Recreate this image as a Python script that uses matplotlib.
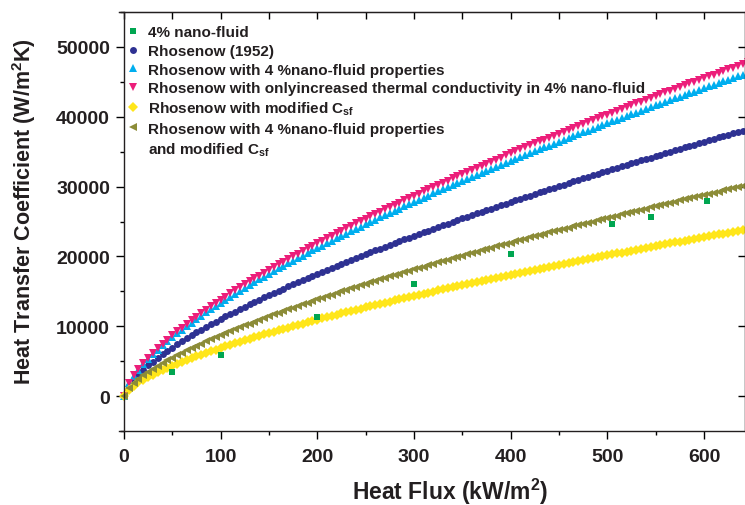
import matplotlib
matplotlib.use("Agg")
import matplotlib.pyplot as plt
from matplotlib.lines import Line2D
from matplotlib.ticker import MultipleLocator

# heat flux grid (kW/m2), one row per 50 kW/m2
heat_flux = [
    0, 5, 10, 15, 20, 25, 30, 35, 40, 45,
    50, 55, 60, 65, 70, 75, 80, 85, 90, 95,
    100, 105, 110, 115, 120, 125, 130, 135, 140, 145,
    150, 155, 160, 165, 170, 175, 180, 185, 190, 195,
    200, 205, 210, 215, 220, 225, 230, 235, 240, 245,
    250, 255, 260, 265, 270, 275, 280, 285, 290, 295,
    300, 305, 310, 315, 320, 325, 330, 335, 340, 345,
    350, 355, 360, 365, 370, 375, 380, 385, 390, 395,
    400, 405, 410, 415, 420, 425, 430, 435, 440, 445,
    450, 455, 460, 465, 470, 475, 480, 485, 490, 495,
    500, 505, 510, 515, 520, 525, 530, 535, 540, 545,
    550, 555, 560, 565, 570, 575, 580, 585, 590, 595,
    600, 605, 610, 615, 620, 625, 630, 635, 640, 645,
]

# Rohsenow (1952), base fluid
h_rohsenow = [
    0, 1500, 2380, 3110, 3770, 4380, 4940, 5480, 5990, 6480,
    6950, 7410, 7850, 8280, 8700, 9110, 9510, 9900, 10280, 10660,
    11030, 11400, 11750, 12110, 12460, 12800, 13140, 13470, 13810, 14130,
    14450, 14770, 15090, 15400, 15710, 16020, 16320, 16620, 16920, 17220,
    17510, 17800, 18090, 18380, 18660, 18940, 19220, 19500, 19770, 20050,
    20320, 20590, 20860, 21120, 21390, 21650, 21910, 22170, 22430, 22690,
    22950, 23200, 23450, 23700, 23950, 24200, 24450, 24700, 24940, 25190,
    25430, 25670, 25910, 26150, 26390, 26630, 26860, 27100, 27330, 27560,
    27800, 28030, 28260, 28490, 28710, 28940, 29170, 29390, 29620, 29840,
    30070, 30290, 30510, 30730, 30950, 31170, 31390, 31610, 31820, 32040,
    32250, 32470, 32680, 32900, 33110, 33320, 33530, 33740, 33950, 34160,
    34370, 34580, 34790, 34990, 35200, 35400, 35610, 35810, 36020, 36220,
    36420, 36620, 36830, 37030, 37230, 37430, 37630, 37830, 38020, 38220,
]

# Rohsenow with 4% nano-fluid properties
h_nano_props = [
    0, 1810, 2880, 3770, 4570, 5300, 5990, 6630, 7250, 7840,
    8420, 8970, 9500, 10020, 10530, 11030, 11510, 11990, 12450, 12910,
    13360, 13800, 14230, 14660, 15080, 15500, 15910, 16320, 16720, 17110,
    17500, 17890, 18270, 18650, 19030, 19400, 19770, 20130, 20490, 20850,
    21200, 21560, 21900, 22250, 22600, 22940, 23270, 23610, 23940, 24280,
    24610, 24930, 25260, 25580, 25900, 26220, 26540, 26850, 27160, 27480,
    27790, 28090, 28400, 28700, 29010, 29310, 29610, 29910, 30200, 30500,
    30790, 31090, 31380, 31670, 31950, 32240, 32530, 32810, 33100, 33380,
    33660, 33940, 34220, 34500, 34770, 35050, 35320, 35600, 35870, 36140,
    36410, 36680, 36950, 37210, 37480, 37750, 38010, 38270, 38540, 38800,
    39060, 39320, 39580, 39840, 40090, 40350, 40600, 40860, 41110, 41370,
    41620, 41870, 42120, 42370, 42620, 42870, 43120, 43370, 43610, 43860,
    44110, 44350, 44590, 44840, 45080, 45320, 45560, 45810, 46050, 46280,
]

# Rohsenow with only the increased thermal conductivity
h_conductivity = [
    0, 1870, 2970, 3890, 4720, 5470, 6180, 6850, 7490, 8100,
    8690, 9260, 9810, 10350, 10870, 11380, 11880, 12370, 12850, 13330,
    13790, 14240, 14690, 15140, 15570, 16000, 16420, 16840, 17260, 17660,
    18070, 18470, 18860, 19250, 19640, 20020, 20400, 20780, 21150, 21520,
    21890, 22250, 22610, 22970, 23320, 23680, 24030, 24370, 24720, 25060,
    25400, 25740, 26070, 26410, 26740, 27070, 27390, 27720, 28040, 28360,
    28680, 29000, 29320, 29630, 29940, 30250, 30560, 30870, 31180, 31480,
    31790, 32090, 32390, 32690, 32990, 33280, 33580, 33870, 34160, 34460,
    34740, 35030, 35320, 35610, 35890, 36180, 36460, 36740, 37020, 37300,
    37580, 37860, 38140, 38410, 38690, 38960, 39240, 39510, 39780, 40050,
    40320, 40590, 40850, 41120, 41390, 41650, 41910, 42180, 42440, 42700,
    42960, 43220, 43480, 43740, 44000, 44260, 44510, 44770, 45020, 45280,
    45530, 45780, 46030, 46280, 46540, 46780, 47030, 47280, 47530, 47780,
]

# Rohsenow with modified Csf
h_modified_csf = [
    0, 940, 1490, 1950, 2360, 2740, 3090, 3420, 3740, 4050,
    4340, 4630, 4900, 5170, 5440, 5690, 5940, 6190, 6430, 6660,
    6890, 7120, 7350, 7570, 7790, 8000, 8210, 8420, 8630, 8830,
    9030, 9230, 9430, 9630, 9820, 10010, 10200, 10390, 10580, 10760,
    10940, 11130, 11310, 11480, 11660, 11840, 12010, 12190, 12360, 12530,
    12700, 12870, 13040, 13200, 13370, 13530, 13700, 13860, 14020, 14180,
    14340, 14500, 14660, 14820, 14970, 15130, 15280, 15440, 15590, 15740,
    15890, 16040, 16190, 16340, 16490, 16640, 16790, 16940, 17080, 17230,
    17370, 17520, 17660, 17800, 17950, 18090, 18230, 18370, 18510, 18650,
    18790, 18930, 19070, 19210, 19340, 19480, 19620, 19750, 19890, 20020,
    20160, 20290, 20430, 20560, 20690, 20830, 20960, 21090, 21220, 21350,
    21480, 21610, 21740, 21870, 22000, 22130, 22260, 22380, 22510, 22640,
    22760, 22890, 23020, 23140, 23270, 23390, 23520, 23640, 23770, 23890,
]

# Rohsenow with nano-fluid properties and modified Csf
h_props_csf = [
    0, 1190, 1880, 2460, 2980, 3460, 3910, 4330, 4740, 5120,
    5500, 5860, 6210, 6550, 6880, 7200, 7520, 7830, 8130, 8430,
    8730, 9010, 9300, 9580, 9850, 10130, 10390, 10660, 10920, 11180,
    11430, 11690, 11940, 12180, 12430, 12670, 12910, 13150, 13390, 13620,
    13850, 14080, 14310, 14530, 14760, 14980, 15200, 15420, 15640, 15860,
    16070, 16290, 16500, 16710, 16920, 17130, 17330, 17540, 17740, 17950,
    18150, 18350, 18550, 18750, 18950, 19140, 19340, 19540, 19730, 19920,
    20110, 20310, 20500, 20690, 20870, 21060, 21250, 21430, 21620, 21800,
    21990, 22170, 22350, 22530, 22710, 22890, 23070, 23250, 23430, 23610,
    23780, 23960, 24130, 24310, 24480, 24660, 24830, 25000, 25170, 25340,
    25510, 25680, 25850, 26020, 26190, 26360, 26520, 26690, 26860, 27020,
    27190, 27350, 27520, 27680, 27840, 28010, 28170, 28330, 28490, 28650,
    28810, 28970, 29130, 29290, 29450, 29610, 29760, 29920, 30080, 30230,
]

# measured 4% nano-fluid
exp_flux = [50, 100, 200, 300, 400, 505, 545, 603]
exp_h = [3500, 5900, 11300, 16000, 20300, 24700, 25700, 28000]

labels = [
    "4% nano-fluid",
    "Rhosenow (1952)",
    "Rhosenow with 4 %nano-fluid properties",
    "Rhosenow with onlyincreased thermal conductivity in 4% nano-fluid",
    r"Rhosenow with modified C$_{sf}$",
    "Rhosenow with 4 %nano-fluid properties",
    r"and modified C$_{sf}$",
]

TEXT = "#231f20"
plt.rcParams["font.family"] = "Liberation Sans"
plt.rcParams["font.weight"] = "bold"
plt.rcParams["axes.labelweight"] = "bold"
plt.rcParams["mathtext.fontset"] = "custom"
plt.rcParams["mathtext.rm"] = "Liberation Sans:bold"
plt.rcParams["mathtext.it"] = "Liberation Sans:bold"
plt.rcParams["mathtext.bf"] = "Liberation Sans:bold"
plt.rcParams["mathtext.default"] = "rm"

fig = plt.figure(figsize=(7.45, 5.06), dpi=100)
ax = fig.add_axes([119 / 745, 74 / 506, 626 / 745, 419 / 506])

styles = [
    (h_rohsenow, "o", "#2e3192", 5.0),
    (h_nano_props, "^", "#00aeef", 6.0),
    (h_conductivity, "v", "#ec1e7a", 6.0),
    (h_modified_csf, "D", "#ffe61a", 5.0),
    (h_props_csf, "<", "#8c8c38", 6.0),
]
handles = []
for values, marker, color, size in styles:
    (ln,) = ax.plot(heat_flux, values, linestyle="none", marker=marker, ms=size,
                    color=color, markeredgewidth=0)
    handles.append(ln)
(exp_ln,) = ax.plot(exp_flux, exp_h, linestyle="none", marker="s", ms=4.5,
                    color="#00a651", markeredgewidth=0, zorder=5)

ax.set_xlim(-5, 642.4)
ax.set_ylim(-5000, 55000)
ax.spines["left"].set_position(("data", 0))
for side in ax.spines.values():
    side.set_linewidth(1.0)
    side.set_color("#231f20")

ax.xaxis.set_major_locator(MultipleLocator(100))
ax.xaxis.set_minor_locator(MultipleLocator(50))
ax.yaxis.set_major_locator(MultipleLocator(10000))
ax.yaxis.set_minor_locator(MultipleLocator(5000))
ax.tick_params(which="major", direction="out", length=6, width=1.0,
               labelsize=14, labelcolor=TEXT)
ax.tick_params(which="minor", direction="out", length=3, width=1.0)
ax.tick_params(axis="x", which="major", pad=6)
ax.tick_params(axis="y", which="major", pad=4)

top = ax.secondary_xaxis("top")
top.xaxis.set_major_locator(MultipleLocator(50))
top.tick_params(direction="in", length=5, width=1.0, labeltop=False)
right = ax.secondary_yaxis("right")
right.yaxis.set_major_locator(MultipleLocator(10000))
right.tick_params(direction="in", length=5, width=1.0, labelright=False)

ax.set_xlabel(r"Heat Flux (kW/m$^2$)", fontsize=16.5, color=TEXT)
ax.set_ylabel(r"Heat Transfer Coefficient (W/m$^2$K)", fontsize=15.5, color=TEXT)
ax.xaxis.set_label_coords(0.529, -0.108)
ax.yaxis.set_label_coords(-0.129, 0.527)

blank = Line2D([], [], linestyle="none", marker="")
leg = ax.legend([exp_ln] + handles + [blank], labels, loc="upper left",
                bbox_to_anchor=(0.0128, 0.968), frameon=False, fontsize=11,
                handlelength=0.8, handletextpad=0.57, labelspacing=0.3,
                borderpad=0, borderaxespad=0, numpoints=1)
for t in leg.get_texts():
    t.set_color(TEXT)

fig.savefig("out.png", dpi=100)
